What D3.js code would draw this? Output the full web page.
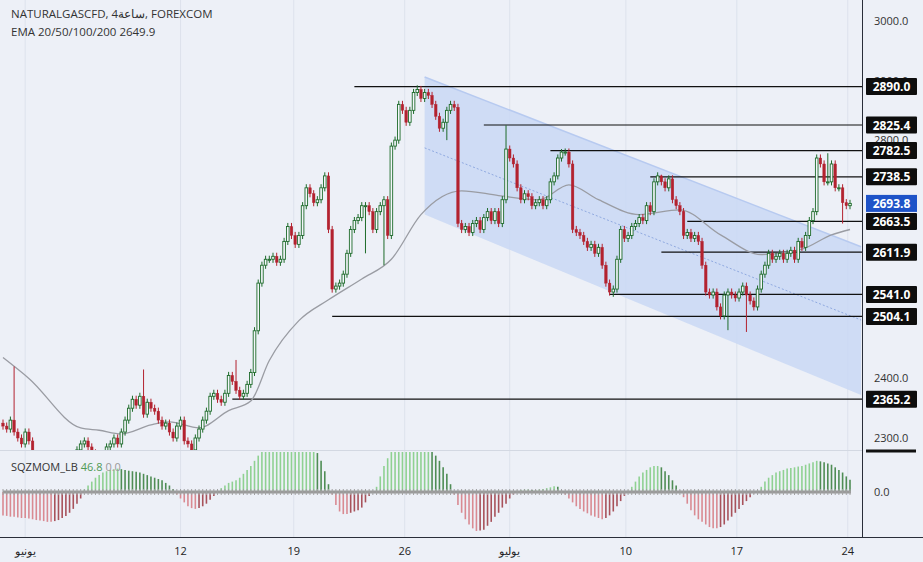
<!DOCTYPE html>
<html><head><meta charset="utf-8">
<script src="https://cdnjs.cloudflare.com/ajax/libs/d3/7.8.5/d3.min.js"></script>
<style>body{margin:0;background:#edf0f7;}svg{display:block;font-family:"Open Sans",Roboto,sans-serif;}</style>
</head><body><svg id="c" width="923" height="562"></svg>
<script>
const closes=[
2320,2315,2330,2310,2300,2290,2310,2295,2270,2260,
2250,2240,2235,2245,2255,2240,2230,2250,2260,2270,
2280,2290,2295,2285,2275,2270,2260,2270,2285,2290,
2300,2290,2310,2330,2350,2365,2355,2370,2340,2360,
2350,2345,2330,2320,2325,2310,2300,2320,2330,2295,
2290,2280,2300,2315,2330,2345,2370,2375,2365,2360,
2375,2405,2395,2380,2370,2375,2390,2410,2480,2560,
2590,2600,2600,2605,2595,2600,2630,2655,2640,2625,
2640,2690,2720,2710,2695,2700,2720,2740,2650,2550,
2555,2560,2575,2610,2650,2665,2670,2690,2690,2680,
2650,2680,2690,2700,2640,2790,2800,2860,2850,2830,
2850,2880,2885,2870,2880,2875,2860,2840,2820,2830,
2850,2860,2855,2660,2650,2655,2645,2660,2665,2650,
2670,2680,2665,2680,2660,2700,2785,2770,2760,2720,
2700,2710,2705,2690,2695,2700,2690,2700,2730,2740,
2770,2780,2780,2760,2650,2645,2640,2630,2620,2625,
2610,2620,2590,2560,2545,2550,2600,2650,2635,2640,
2655,2660,2670,2665,2690,2680,2730,2740,2730,2720,
2735,2700,2690,2680,2640,2645,2635,2640,2630,2590,
2545,2540,2545,2520,2505,2540,2545,2540,2535,2545,
2555,2540,2530,2520,2550,2575,2590,2610,2600,2605,
2610,2600,2610,2615,2600,2630,2620,2640,2665,2680,
2770,2760,2730,2730,2760,2720,2720,2695,2690,2693.8];
const spikes=[{i:3,h:2420},{i:38,h:2415},{i:63,h:2431},{i:103,l:2590},{i:112,h:2892},{i:136,h:2825},{i:151,h:2785},{i:165,l:2537},{i:178,h:2742},{i:196,l:2481},{i:201,l:2478},{i:223,h:2778},{i:227,l:2660},{i:120,l:2800},{i:98,l:2610}];
const emaIdx=[0,7,21,26,32,40,45,53,61,67,72,80,88,97,105,113,124,134,145,153,161,172,183,194,205,216,224,229];
const emaVal=[2435,2400,2317,2313,2307,2322,2327,2317,2346,2362,2430,2497,2532,2567,2600,2675,2715,2707,2700,2725,2700,2675,2683,2641,2608,2617,2641,2650];
const levels=[{v:2890.0,from:95},{v:2825.4,from:130},{v:2782.5,from:148},{v:2738.5,from:175},{v:2663.5,from:185},{v:2611.9,from:178},{v:2541.0,from:164},{v:2504.1,from:89},{v:2365.2,from:62}];
const priceTicks=[3000,2900,2800,2400,2300];
const mom=[
-90,-92,-95,-95,-98,-100,-100,-102,-105,-108,
-110,-112,-115,-115,-112,-108,-100,-92,-80,-65,
-45,-25,10,25,40,55,65,75,80,85,
88,90,88,85,82,80,78,75,70,65,
60,55,50,45,35,25,12,-10,-25,-40,
-55,-62,-65,-62,-55,-45,-30,-15,5,15,
25,35,40,45,55,70,85,100,120,140,
155,160,160,160,160,160,160,160,160,160,
160,160,160,160,160,150,120,80,30,-10,
-50,-75,-85,-85,-80,-75,-70,-60,-40,-15,
5,20,60,100,130,155,160,160,160,160,
160,160,160,160,160,160,155,140,120,95,
70,30,-10,-50,-80,-105,-125,-140,-150,-148,
-145,-130,-115,-95,-80,-60,-45,-25,-10,5,
8,10,10,8,8,10,12,15,18,22,
20,5,-10,-25,-40,-55,-65,-75,-82,-90,
-95,-100,-105,-100,-90,-75,-55,-35,-15,5,
20,40,60,75,85,95,100,100,95,80,
65,45,25,5,-20,-45,-70,-90,-105,-115,
-125,-135,-140,-140,-135,-125,-110,-95,-80,-65,
-50,-35,-20,-5,5,20,40,55,65,75,
80,85,90,92,95,98,100,105,110,115,
120,118,115,110,105,95,85,75,60,46.8];
const dateTicks=[{i:6,t:"يونيو"},{i:48,t:"12"},{i:78.6,t:"19"},{i:108.6,t:"26"},{i:137,t:"يوليو"},{i:168.4,t:"10"},{i:198.4,t:"17"},{i:228.4,t:"24"}];
const channel={i0:114,i1:232,top0:2906,top1:2621,bot0:2675,bot1:2372,mid0:2787,mid1:2498};

const svg=d3.select("#c");
const x=d3.scaleLinear().domain([0,229]).range([3,850]);
const y=d3.scaleLinear().domain([2300,3000]).range([438,21]);
const ym=d3.scaleLinear().domain([0,154]).range([492,452]);
const W=862;
svg.append("rect").attr("width",923).attr("height",562).attr("fill","#edf0f7");
const defs=svg.append("defs");
defs.append("clipPath").attr("id","mc").append("rect").attr("x",0).attr("y",0).attr("width",W).attr("height",450);
// grid
dateTicks.forEach(d=>svg.append("line").attr("x1",x(d.i)).attr("x2",x(d.i)).attr("y1",0).attr("y2",537).attr("stroke","#dde2ec").attr("stroke-width",1));
const g=svg.append("g").attr("clip-path","url(#mc)");
// channel
g.append("polygon").attr("points",[[x(channel.i0),y(channel.top0)],[x(channel.i1),y(channel.top1)],[x(channel.i1),y(channel.bot1)],[x(channel.i0),y(channel.bot0)]].map(p=>p.join(",")).join(" ")).attr("fill","#c9d8f4").attr("opacity",0.85);
g.append("line").attr("x1",x(channel.i0)).attr("y1",y(channel.top0)).attr("x2",x(channel.i1)).attr("y2",y(channel.top1)).attr("stroke","#b7caf0").attr("stroke-width",1.5);
g.append("line").attr("x1",x(channel.i0)).attr("y1",y(channel.mid0)).attr("x2",x(channel.i1)).attr("y2",y(channel.mid1)).attr("stroke","#8fa9e0").attr("stroke-dasharray","2,2");
// levels
levels.forEach(l=>g.append("line").attr("x1",x(l.from)).attr("x2",W).attr("y1",y(l.v)).attr("y2",y(l.v)).attr("stroke","#111").attr("stroke-width",1.2));
// ema
g.append("path").datum(emaIdx.map((d,k)=>[d,emaVal[k]])).attr("d",d3.line().x(d=>x(d[0])).y(d=>y(d[1])).curve(d3.curveMonotoneX)).attr("fill","none").attr("stroke","#9a9ca3").attr("stroke-width",1.3);
// candles
const sp={};spikes.forEach(s=>sp[s.i]=s);
closes.forEach((c,i)=>{
  const o=i?closes[i-1]:2325, up=c>=o;
  let hi=Math.max(o,c)+6, lo=Math.min(o,c)-6;
  if(sp[i]&&sp[i].h)hi=sp[i].h; if(sp[i]&&sp[i].l)lo=sp[i].l;
  const col=up?"#1d6b2a":"#b3222f", cx=x(i);
  g.append("line").attr("x1",cx).attr("x2",cx).attr("y1",y(hi)).attr("y2",y(lo)).attr("stroke",col).attr("stroke-width",1);
  const t=y(Math.max(o,c)),b=y(Math.min(o,c));
  g.append("rect").attr("x",cx-1.3).attr("y",t).attr("width",2.6).attr("height",Math.max(1,b-t)).attr("fill",up?"#f4f6fb":col).attr("stroke",col).attr("stroke-width",up?0.9:0.4);
});
// separators
svg.append("line").attr("x1",0).attr("x2",W).attr("y1",450.5).attr("y2",450.5).attr("stroke","#d3d8e2");
svg.append("line").attr("x1",W+0.5).attr("x2",W+0.5).attr("y1",0).attr("y2",537).attr("stroke","#2a2e39");
svg.append("line").attr("x1",0).attr("x2",923).attr("y1",537.5).attr("y2",537.5).attr("stroke","#2a2e39");
// momentum
mom.forEach((v,i)=>{
  const p=i?mom[i-1]:v, vv=Math.max(-154,Math.min(154,v));
  let col; if(v>=0) col=v>=p?"#8fd192":"#4f8d55"; else col=v<=p?"#d98a92":"#a8525b";
  svg.append("line").attr("x1",x(i)).attr("x2",x(i)).attr("y1",ym(0)).attr("y2",ym(vv)).attr("stroke",col).attr("stroke-width",1.6);
});
svg.append("line").attr("x1",3).attr("x2",851).attr("y1",492).attr("y2",492).attr("stroke","#9a9a9a").attr("stroke-width",3);
closes.forEach((c,i)=>svg.append("line").attr("x1",x(i)).attr("x2",x(i)).attr("y1",489).attr("y2",495).attr("stroke","#a0a0a0").attr("stroke-width",1));
// price ticks
priceTicks.forEach(t=>svg.append("text").attr("x",874).attr("y",y(t)+4).attr("font-size",11).attr("fill","#333").text(t.toFixed(1)));
svg.append("text").attr("x",874).attr("y",496).attr("font-size",11).attr("fill","#333").text("0.0");
svg.append("rect").attr("x",866).attr("y",449.5).attr("width",50).attr("height",3).attr("fill","#111");
// level labels
levels.forEach(l=>{svg.append("rect").attr("x",866).attr("y",y(l.v)-8.5).attr("width",51).attr("height",17).attr("rx",1).attr("fill","#0d0d0d");
 svg.append("text").attr("x",891.5).attr("y",y(l.v)+4.5).attr("text-anchor","middle").attr("font-size",12).attr("font-weight","bold").attr("fill","#fff").text(l.v.toFixed(1));});
const last=closes[closes.length-1];
svg.append("rect").attr("x",866).attr("y",y(last)-8.5).attr("width",51).attr("height",17).attr("fill","#1e53c8");
svg.append("text").attr("x",891.5).attr("y",y(last)+4.5).attr("text-anchor","middle").attr("font-size",12).attr("font-weight","bold").attr("fill","#fff").text(last.toFixed(1));
// dates
dateTicks.forEach(d=>svg.append("text").attr("x",x(d.i)).attr("y",555).attr("text-anchor","middle").attr("font-size",11).attr("fill","#222").text(d.t));
// legends
svg.append("text").attr("x",11).attr("y",18).attr("font-size",11.5).attr("fill","#333").text("NATURALGASCFD, 4ساعة, FOREXCOM");
svg.append("text").attr("x",11).attr("y",36).attr("font-size",11.5).attr("fill","#333").text("EMA 20/50/100/200  2649.9");
const sq=svg.append("text").attr("x",11).attr("y",471).attr("font-size",11).attr("fill","#333");
sq.append("tspan").text("SQZMOM_LB ");sq.append("tspan").attr("fill","#4f9a55").text("46.8 ");sq.append("tspan").attr("fill","#999").text(" 0.0");
</script></body></html>
